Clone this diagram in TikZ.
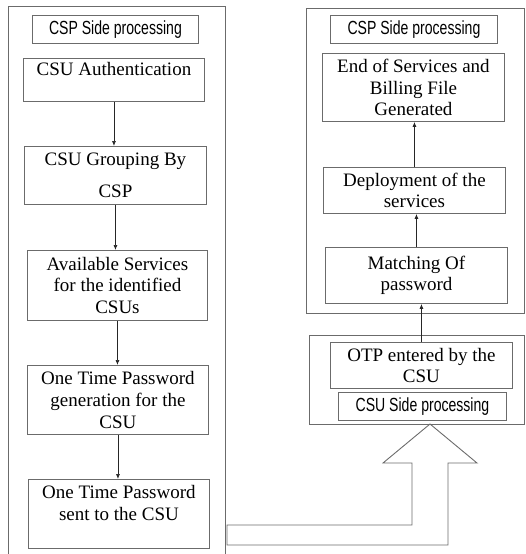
\documentclass[tikz,border=0pt]{standalone}
\usepackage{fontspec}
\usepackage{graphicx}
\setmainfont{Liberation Serif}
\newfontfamily\headfont{Liberation Sans}
\usetikzlibrary{arrows.meta}
\definecolor{boxgray}{gray}{0.42}
\newcommand{\narrowhead}[1]{\scalebox{0.74}[1]{#1}}
\begin{document}
\begin{tikzpicture}[x=1pt,y=-1pt,
  frame/.style={draw=boxgray, line width=0.9pt},
  stepbox/.style={frame, anchor=north west, inner sep=0pt, align=center,
    font=\fontsize{19}{21.7}\selectfont},
  headbox/.style={frame, anchor=north west, inner sep=0pt,
    font=\fontsize{19}{21}\headfont},
  flow/.style={draw=black!85, line width=0.7pt, -{Latex[length=5pt,width=4pt]}},
  bigarrow/.style={draw=boxgray, line width=0.9pt, line join=miter},
]
\useasboundingbox (0,0) rectangle (525,554);

% outer frames
\draw[frame] (8,554) -- (8,6) -- (225,6) -- (225,554);
\draw[frame] (306,8) rectangle (524,313);
\draw[frame] (309,335) rectangle (524,424);

% CSP side, first stage
\node[headbox, minimum width=166pt, minimum height=28pt] (lhead) at (32,15)
  {\narrowhead{CSP Side processing}};
\node[stepbox, minimum width=181pt, minimum height=43pt] (auth) at (23,58)
  {CSU Authentication\\ \mbox{}};
\node[stepbox, minimum width=182pt, minimum height=58pt] (group) at (24,146)
  {CSU Grouping By\\[10pt]CSP};
\node[stepbox, minimum width=180pt, minimum height=70pt] (avail) at (27,250)
  {Available Services\\for the identified\\CSUs};
\node[stepbox, minimum width=181pt, minimum height=69pt] (otpgen) at (27,365)
  {One Time Password\\generation for the\\CSU};
\node[stepbox, minimum width=181pt, minimum height=69pt] (otpsent) at (28,479)
  {One Time Password\\sent to the CSU\\ \mbox{}};

% CSP side, second stage
\node[headbox, minimum width=167pt, minimum height=28pt] (rhead) at (330,15)
  {\narrowhead{CSP Side processing}};
\node[stepbox, minimum width=182pt, minimum height=68pt] (endsvc) at (322,53)
  {End of Services and\\Billing File\\Generated};
\node[stepbox, minimum width=182pt, minimum height=46pt] (deploy) at (323,167)
  {Deployment of the\\services};
\node[stepbox, minimum width=182pt, minimum height=56pt] (match) at (325,247)
  {Matching Of\\password};

% CSU side
\node[stepbox, minimum width=182pt, minimum height=46pt] (otpin) at (330,342)
  {OTP entered by the\\CSU};
\node[headbox, minimum width=168pt, minimum height=28pt] (chead) at (338,392)
  {\narrowhead{CSU Side processing}};

% flow arrows
\draw[flow] (auth.south) -- (auth.south |- group.north);
\draw[flow] (group.south) -- (group.south |- avail.north);
\draw[flow] (avail.south) -- (avail.south |- otpgen.north);
\draw[flow] (otpgen.south) -- (otpgen.south |- otpsent.north);
\draw[flow] (otpin.north) -- (otpin.north |- match.south);
\draw[flow] (match.north) -- (match.north |- deploy.south);
\draw[flow] (deploy.north) -- (deploy.north |- endsvc.south);

% hand-over arrow from the CSP side to the CSU side
\draw[bigarrow] (227,525) -- (412,525) -- (412,463) -- (383,463) -- (430,424)
  -- (477,463) -- (448,463) -- (448,545) -- (227,545) -- cycle;
\end{tikzpicture}
\end{document}
